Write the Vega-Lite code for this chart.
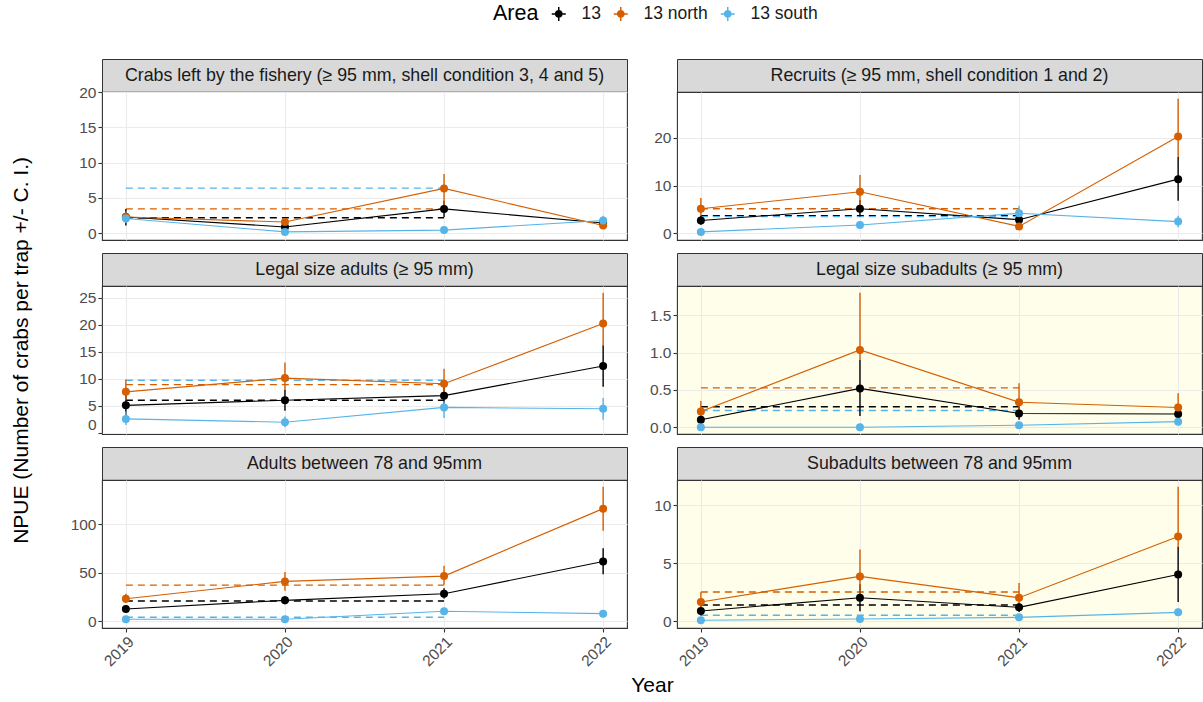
{
  "$schema": "https://vega.github.io/schema/vega-lite/v6.json",
  "padding": {"left": 10, "right": 0, "top": 5, "bottom": 0},
  "title": {"text": "NPUE (Number of crabs per trap +/- C. I.)", "orient": "left", "anchor": "middle", "frame": "bounds", "fontSize": 21, "fontWeight": "normal", "color": "#000000", "offset": 38},
  "config": {
    "font": "Liberation Sans",
    "view": {"stroke": "#333333", "strokeWidth": 1.1},
    "axis": {"grid": true, "gridColor": "#EBEBEB", "gridWidth": 1.1, "domain": false, "tickColor": "#333333", "tickSize": 4, "tickWidth": 1.1, "labelColor": "#4D4D4D", "labelFontSize": 15.5, "labelFont": "Liberation Sans", "labelPadding": 2, "titleFont": "Liberation Sans", "titleFontSize": 21, "titleFontWeight": "normal", "titleColor": "#000000"}
  },
  "datasets": {
    "pts": [
      {"panel": "P1", "area": "13", "year": 2019, "npue": 2.3, "lo": 1.1, "hi": 3.45},
      {"panel": "P1", "area": "13", "year": 2020, "npue": 0.9, "lo": 0.4, "hi": 1.4},
      {"panel": "P1", "area": "13", "year": 2021, "npue": 3.45, "lo": 2.3, "hi": 4.6},
      {"panel": "P1", "area": "13", "year": 2022, "npue": 1.45, "lo": 1.1, "hi": 1.8},
      {"panel": "P1", "area": "13 north", "year": 2019, "npue": 2.3, "lo": 1.5, "hi": 3.1},
      {"panel": "P1", "area": "13 north", "year": 2020, "npue": 1.6, "lo": 1.2, "hi": 2.0},
      {"panel": "P1", "area": "13 north", "year": 2021, "npue": 6.35, "lo": 3.9, "hi": 8.4},
      {"panel": "P1", "area": "13 north", "year": 2022, "npue": 1.1, "lo": 0.8, "hi": 1.4},
      {"panel": "P1", "area": "13 south", "year": 2019, "npue": 2.1, "lo": 1.5, "hi": 2.8},
      {"panel": "P1", "area": "13 south", "year": 2020, "npue": 0.2, "lo": 0.05, "hi": 0.4},
      {"panel": "P1", "area": "13 south", "year": 2021, "npue": 0.45, "lo": 0.2, "hi": 0.7},
      {"panel": "P1", "area": "13 south", "year": 2022, "npue": 1.8, "lo": 1.1, "hi": 2.5},

      {"panel": "P2", "area": "13", "year": 2019, "npue": 2.7, "lo": 1.8, "hi": 3.7},
      {"panel": "P2", "area": "13", "year": 2020, "npue": 5.15, "lo": 3.5, "hi": 7.0},
      {"panel": "P2", "area": "13", "year": 2021, "npue": 2.85, "lo": 1.8, "hi": 4.0},
      {"panel": "P2", "area": "13", "year": 2022, "npue": 11.35, "lo": 6.8, "hi": 16.0},
      {"panel": "P2", "area": "13 north", "year": 2019, "npue": 5.15, "lo": 3.7, "hi": 7.4},
      {"panel": "P2", "area": "13 north", "year": 2020, "npue": 8.7, "lo": 5.8, "hi": 12.2},
      {"panel": "P2", "area": "13 north", "year": 2021, "npue": 1.45, "lo": 0.8, "hi": 2.2},
      {"panel": "P2", "area": "13 north", "year": 2022, "npue": 20.3, "lo": 16.0, "hi": 28.2},
      {"panel": "P2", "area": "13 south", "year": 2019, "npue": 0.3, "lo": 0.1, "hi": 0.6},
      {"panel": "P2", "area": "13 south", "year": 2020, "npue": 1.75, "lo": 1.0, "hi": 2.6},
      {"panel": "P2", "area": "13 south", "year": 2021, "npue": 4.2, "lo": 2.6, "hi": 5.8},
      {"panel": "P2", "area": "13 south", "year": 2022, "npue": 2.45, "lo": 1.25, "hi": 3.7},

      {"panel": "P3", "area": "13", "year": 2019, "npue": 5.05, "lo": 3.0, "hi": 7.5},
      {"panel": "P3", "area": "13", "year": 2020, "npue": 6.0, "lo": 4.05, "hi": 8.0},
      {"panel": "P3", "area": "13", "year": 2021, "npue": 6.85, "lo": 5.0, "hi": 9.0},
      {"panel": "P3", "area": "13", "year": 2022, "npue": 12.35, "lo": 8.5, "hi": 16.2},
      {"panel": "P3", "area": "13 north", "year": 2019, "npue": 7.55, "lo": 6.0, "hi": 9.85},
      {"panel": "P3", "area": "13 north", "year": 2020, "npue": 10.1, "lo": 8.0, "hi": 13.0},
      {"panel": "P3", "area": "13 north", "year": 2021, "npue": 9.05, "lo": 7.0, "hi": 11.85},
      {"panel": "P3", "area": "13 north", "year": 2022, "npue": 20.2, "lo": 16.1, "hi": 25.9},
      {"panel": "P3", "area": "13 south", "year": 2019, "npue": 2.55, "lo": 1.4, "hi": 3.9},
      {"panel": "P3", "area": "13 south", "year": 2020, "npue": 1.93, "lo": 1.0, "hi": 3.0},
      {"panel": "P3", "area": "13 south", "year": 2021, "npue": 4.67, "lo": 2.7, "hi": 5.8},
      {"panel": "P3", "area": "13 south", "year": 2022, "npue": 4.43, "lo": 2.4, "hi": 6.4},

      {"panel": "P4", "area": "13", "year": 2019, "npue": 0.10, "lo": 0.02, "hi": 0.2},
      {"panel": "P4", "area": "13", "year": 2020, "npue": 0.52, "lo": 0.15, "hi": 0.9},
      {"panel": "P4", "area": "13", "year": 2021, "npue": 0.185, "lo": 0.1, "hi": 0.35},
      {"panel": "P4", "area": "13", "year": 2022, "npue": 0.177, "lo": 0.1, "hi": 0.28},
      {"panel": "P4", "area": "13 north", "year": 2019, "npue": 0.21, "lo": 0.1, "hi": 0.35},
      {"panel": "P4", "area": "13 north", "year": 2020, "npue": 1.035, "lo": 0.9, "hi": 1.8},
      {"panel": "P4", "area": "13 north", "year": 2021, "npue": 0.335, "lo": 0.2, "hi": 0.59},
      {"panel": "P4", "area": "13 north", "year": 2022, "npue": 0.265, "lo": 0.15, "hi": 0.455},
      {"panel": "P4", "area": "13 south", "year": 2019, "npue": 0.0, "lo": 0.0, "hi": 0.0},
      {"panel": "P4", "area": "13 south", "year": 2020, "npue": 0.0, "lo": 0.0, "hi": 0.0},
      {"panel": "P4", "area": "13 south", "year": 2021, "npue": 0.027, "lo": 0.0, "hi": 0.06},
      {"panel": "P4", "area": "13 south", "year": 2022, "npue": 0.075, "lo": 0.03, "hi": 0.12},

      {"panel": "P5", "area": "13", "year": 2019, "npue": 12.7, "lo": 9.5, "hi": 16.0},
      {"panel": "P5", "area": "13", "year": 2020, "npue": 21.6, "lo": 17.5, "hi": 26.0},
      {"panel": "P5", "area": "13", "year": 2021, "npue": 28.4, "lo": 23.5, "hi": 34.0},
      {"panel": "P5", "area": "13", "year": 2022, "npue": 61.6, "lo": 48.6, "hi": 75.3},
      {"panel": "P5", "area": "13 north", "year": 2019, "npue": 23.3, "lo": 18.8, "hi": 28.4},
      {"panel": "P5", "area": "13 north", "year": 2020, "npue": 41.1, "lo": 31.5, "hi": 50.7},
      {"panel": "P5", "area": "13 north", "year": 2021, "npue": 46.6, "lo": 37.7, "hi": 57.2},
      {"panel": "P5", "area": "13 north", "year": 2022, "npue": 116.1, "lo": 93.2, "hi": 138.7},
      {"panel": "P5", "area": "13 south", "year": 2019, "npue": 2.05, "lo": 1.0, "hi": 3.5},
      {"panel": "P5", "area": "13 south", "year": 2020, "npue": 2.05, "lo": 1.0, "hi": 3.5},
      {"panel": "P5", "area": "13 south", "year": 2021, "npue": 10.3, "lo": 7.5, "hi": 13.5},
      {"panel": "P5", "area": "13 south", "year": 2022, "npue": 7.9, "lo": 5.5, "hi": 10.5},

      {"panel": "P6", "area": "13", "year": 2019, "npue": 0.89, "lo": 0.5, "hi": 1.3},
      {"panel": "P6", "area": "13", "year": 2020, "npue": 2.03, "lo": 0.86, "hi": 3.2},
      {"panel": "P6", "area": "13", "year": 2021, "npue": 1.2, "lo": 0.8, "hi": 1.6},
      {"panel": "P6", "area": "13", "year": 2022, "npue": 4.04, "lo": 1.66, "hi": 6.42},
      {"panel": "P6", "area": "13 north", "year": 2019, "npue": 1.66, "lo": 1.0, "hi": 2.5},
      {"panel": "P6", "area": "13 north", "year": 2020, "npue": 3.87, "lo": 2.2, "hi": 6.19},
      {"panel": "P6", "area": "13 north", "year": 2021, "npue": 2.03, "lo": 1.2, "hi": 3.3},
      {"panel": "P6", "area": "13 north", "year": 2022, "npue": 7.3, "lo": 6.4, "hi": 11.6},
      {"panel": "P6", "area": "13 south", "year": 2019, "npue": 0.09, "lo": 0.02, "hi": 0.2},
      {"panel": "P6", "area": "13 south", "year": 2020, "npue": 0.2, "lo": 0.1, "hi": 0.35},
      {"panel": "P6", "area": "13 south", "year": 2021, "npue": 0.34, "lo": 0.2, "hi": 0.5},
      {"panel": "P6", "area": "13 south", "year": 2022, "npue": 0.77, "lo": 0.5, "hi": 1.1}
    ],
    "ref": [
      {"panel": "P1", "area": "13", "year": 2019, "year2": 2021, "npue": 2.2},
      {"panel": "P1", "area": "13 north", "year": 2019, "year2": 2021, "npue": 3.45},
      {"panel": "P1", "area": "13 south", "year": 2019, "year2": 2021, "npue": 6.4},
      {"panel": "P2", "area": "13", "year": 2019, "year2": 2021, "npue": 3.7},
      {"panel": "P2", "area": "13 north", "year": 2019, "year2": 2021, "npue": 5.15},
      {"panel": "P2", "area": "13 south", "year": 2019, "year2": 2021, "npue": 3.5},
      {"panel": "P3", "area": "13", "year": 2019, "year2": 2021, "npue": 6.0},
      {"panel": "P3", "area": "13 north", "year": 2019, "year2": 2021, "npue": 8.9},
      {"panel": "P3", "area": "13 south", "year": 2019, "year2": 2021, "npue": 9.7},
      {"panel": "P4", "area": "13", "year": 2019, "year2": 2021, "npue": 0.274},
      {"panel": "P4", "area": "13 north", "year": 2019, "year2": 2021, "npue": 0.527},
      {"panel": "P4", "area": "13 south", "year": 2019, "year2": 2021, "npue": 0.225},
      {"panel": "P5", "area": "13", "year": 2019, "year2": 2021, "npue": 20.9},
      {"panel": "P5", "area": "13 north", "year": 2019, "year2": 2021, "npue": 37.3},
      {"panel": "P5", "area": "13 south", "year": 2019, "year2": 2021, "npue": 4.1},
      {"panel": "P6", "area": "13", "year": 2019, "year2": 2021, "npue": 1.4},
      {"panel": "P6", "area": "13 north", "year": 2019, "year2": 2021, "npue": 2.52},
      {"panel": "P6", "area": "13 south", "year": 2019, "year2": 2021, "npue": 0.52}
    ]
  },
  "resolve": {"scale": {"x": "independent", "y": "independent", "color": "shared"}},
  "spacing": 9,
  "vconcat": [
    {
      "columns": 2, "bounds": "flush", "spacing": {"row": 0, "column": 50},
      "resolve": {"scale": {"x": "independent", "y": "independent", "color": "shared"}},
      "concat": [
        {"width": 525, "height": 33, "view": {"fill": "#D9D9D9", "stroke": "#333333"}, "data": {"values": [{"label": "Crabs left by the fishery (≥ 95 mm, shell condition 3, 4 and 5)"}]}, "mark": {"type": "text", "fontSize": 17.8, "color": "#1A1A1A", "baseline": "middle"}, "encoding": {"text": {"field": "label"}}},
        {"width": 525, "height": 33, "view": {"fill": "#D9D9D9", "stroke": "#333333"}, "data": {"values": [{"label": "Recruits (≥ 95 mm, shell condition 1 and 2)"}]}, "mark": {"type": "text", "fontSize": 17.8, "color": "#1A1A1A", "baseline": "middle"}, "encoding": {"text": {"field": "label"}}},
        {
          "width": 525, "height": 148,
          "encoding": {
            "x": {"field": "year", "type": "quantitative", "scale": {"domain": [2018.85, 2022.15], "nice": false, "zero": false}, "axis": {"values": [2019, 2020, 2021, 2022], "labels": false, "ticks": false, "title": null}},
            "y": {"field": "npue", "type": "quantitative", "scale": {"domain": [-0.95, 20.0], "nice": false, "zero": false}, "axis": {"values": [0, 5, 10, 15, 20], "title": null}},
            "color": {"field": "area", "type": "nominal", "scale": {"domain": ["13", "13 north", "13 south"], "range": ["#000000", "#D55E00", "#56B4E9"]},
              "legend": {"title": "Area", "orient": "none", "legendX": 391, "legendY": -54, "direction": "horizontal", "titleOrient": "left", "titleFontSize": 21.5, "titleFontWeight": "normal", "titleColor": "#000000", "titlePadding": 11, "titleBaseline": "middle", "labelFontSize": 17.5, "labelColor": "#1A1A1A", "labelOffset": 14, "columnPadding": 9, "symbolSize": 196, "symbolStrokeWidth": 1.5,
                "encode": {"symbols": {"update": {"shape": {"value": "M-1,0H1M0,-1V1M0.45,0A0.45,0.45,0,1,1,-0.45,0A0.45,0.45,0,1,1,0.45,0Z"}, "fill": {"scale": "color", "field": "value"}, "stroke": {"scale": "color", "field": "value"}, "strokeWidth": {"value": 1.5}, "opacity": {"value": 1}}}}}}
          },
          "layer": [
            {"data": {"name": "ref"}, "transform": [{"filter": "datum.panel === 'P1'"}], "mark": {"type": "rule", "strokeDash": [7, 5], "strokeWidth": 1.4}, "encoding": {"x2": {"field": "year2"}}},
            {"data": {"name": "pts"}, "transform": [{"filter": "datum.panel === 'P1'"}], "mark": {"type": "rule", "strokeWidth": 1.4}, "encoding": {"y": {"field": "lo", "type": "quantitative", "scale": {"domain": [-0.95, 20.0], "nice": false, "zero": false}, "axis": {"values": [0, 5, 10, 15, 20], "title": null}}, "y2": {"field": "hi"}}},
            {"data": {"name": "pts"}, "transform": [{"filter": "datum.panel === 'P1'"}], "mark": {"type": "line", "strokeWidth": 1.1}},
            {"data": {"name": "pts"}, "transform": [{"filter": "datum.panel === 'P1'"}], "mark": {"type": "circle", "size": 64, "opacity": 1}}
          ]
        },
        {
          "width": 525, "height": 148,
          "encoding": {
            "x": {"field": "year", "type": "quantitative", "scale": {"domain": [2018.85, 2022.15], "nice": false, "zero": false}, "axis": {"values": [2019, 2020, 2021, 2022], "labels": false, "ticks": false, "title": null}},
            "y": {"field": "npue", "type": "quantitative", "scale": {"domain": [-1.4, 29.6], "nice": false, "zero": false}, "axis": {"values": [0, 10, 20], "title": null}},
            "color": {"field": "area", "type": "nominal", "scale": {"domain": ["13", "13 north", "13 south"], "range": ["#000000", "#D55E00", "#56B4E9"]}}
          },
          "layer": [
            {"data": {"name": "ref"}, "transform": [{"filter": "datum.panel === 'P2'"}], "mark": {"type": "rule", "strokeDash": [7, 5], "strokeWidth": 1.4}, "encoding": {"x2": {"field": "year2"}}},
            {"data": {"name": "pts"}, "transform": [{"filter": "datum.panel === 'P2'"}], "mark": {"type": "rule", "strokeWidth": 1.4}, "encoding": {"y": {"field": "lo", "type": "quantitative", "scale": {"domain": [-1.4, 29.6], "nice": false, "zero": false}, "axis": {"values": [0, 10, 20], "title": null}}, "y2": {"field": "hi"}}},
            {"data": {"name": "pts"}, "transform": [{"filter": "datum.panel === 'P2'"}], "mark": {"type": "line", "strokeWidth": 1.1}},
            {"data": {"name": "pts"}, "transform": [{"filter": "datum.panel === 'P2'"}], "mark": {"type": "circle", "size": 64, "opacity": 1}}
          ]
        }
      ]
    },
    {
      "columns": 2, "bounds": "flush", "spacing": {"row": 0, "column": 50},
      "resolve": {"scale": {"x": "independent", "y": "independent", "color": "shared"}},
      "concat": [
        {"width": 525, "height": 33, "view": {"fill": "#D9D9D9", "stroke": "#333333"}, "data": {"values": [{"label": "Legal size adults (≥ 95 mm)"}]}, "mark": {"type": "text", "fontSize": 17.8, "color": "#1A1A1A", "baseline": "middle"}, "encoding": {"text": {"field": "label"}}},
        {"width": 525, "height": 33, "view": {"fill": "#D9D9D9", "stroke": "#333333"}, "data": {"values": [{"label": "Legal size subadults (≥ 95 mm)"}]}, "mark": {"type": "text", "fontSize": 17.8, "color": "#1A1A1A", "baseline": "middle"}, "encoding": {"text": {"field": "label"}}},
        {
          "width": 525, "height": 148,
          "encoding": {
            "x": {"field": "year", "type": "quantitative", "scale": {"domain": [2018.85, 2022.15], "nice": false, "zero": false}, "axis": {"values": [2019, 2020, 2021, 2022], "labels": false, "ticks": false, "title": null}},
            "y": {"field": "npue", "type": "quantitative", "scale": {"domain": [-0.25, 27.15], "nice": false, "zero": false}, "axis": {"values": [0, 5, 10, 15, 20, 25], "title": null, "labelFlush": 3}},
            "color": {"field": "area", "type": "nominal", "scale": {"domain": ["13", "13 north", "13 south"], "range": ["#000000", "#D55E00", "#56B4E9"]}}
          },
          "layer": [
            {"data": {"name": "ref"}, "transform": [{"filter": "datum.panel === 'P3'"}], "mark": {"type": "rule", "strokeDash": [7, 5], "strokeWidth": 1.4}, "encoding": {"x2": {"field": "year2"}}},
            {"data": {"name": "pts"}, "transform": [{"filter": "datum.panel === 'P3'"}], "mark": {"type": "rule", "strokeWidth": 1.4}, "encoding": {"y": {"field": "lo", "type": "quantitative", "scale": {"domain": [-0.25, 27.15], "nice": false, "zero": false}, "axis": {"values": [0, 5, 10, 15, 20, 25], "title": null, "labelFlush": 3}}, "y2": {"field": "hi"}}},
            {"data": {"name": "pts"}, "transform": [{"filter": "datum.panel === 'P3'"}], "mark": {"type": "line", "strokeWidth": 1.1}},
            {"data": {"name": "pts"}, "transform": [{"filter": "datum.panel === 'P3'"}], "mark": {"type": "circle", "size": 64, "opacity": 1}}
          ]
        },
        {
          "width": 525, "height": 148, "view": {"fill": "#FFFEEA"},
          "encoding": {
            "x": {"field": "year", "type": "quantitative", "scale": {"domain": [2018.85, 2022.15], "nice": false, "zero": false}, "axis": {"values": [2019, 2020, 2021, 2022], "labels": false, "ticks": false, "title": null}},
            "y": {"field": "npue", "type": "quantitative", "scale": {"domain": [-0.09, 1.89], "nice": false, "zero": false}, "axis": {"values": [0, 0.5, 1, 1.5], "format": ".1f", "title": null}},
            "color": {"field": "area", "type": "nominal", "scale": {"domain": ["13", "13 north", "13 south"], "range": ["#000000", "#D55E00", "#56B4E9"]}}
          },
          "layer": [
            {"data": {"name": "ref"}, "transform": [{"filter": "datum.panel === 'P4'"}], "mark": {"type": "rule", "strokeDash": [7, 5], "strokeWidth": 1.4}, "encoding": {"x2": {"field": "year2"}}},
            {"data": {"name": "pts"}, "transform": [{"filter": "datum.panel === 'P4'"}], "mark": {"type": "rule", "strokeWidth": 1.4}, "encoding": {"y": {"field": "lo", "type": "quantitative", "scale": {"domain": [-0.09, 1.89], "nice": false, "zero": false}, "axis": {"values": [0, 0.5, 1, 1.5], "format": ".1f", "title": null}}, "y2": {"field": "hi"}}},
            {"data": {"name": "pts"}, "transform": [{"filter": "datum.panel === 'P4'"}], "mark": {"type": "line", "strokeWidth": 1.1}},
            {"data": {"name": "pts"}, "transform": [{"filter": "datum.panel === 'P4'"}], "mark": {"type": "circle", "size": 64, "opacity": 1}}
          ]
        }
      ]
    },
    {
      "columns": 2, "bounds": "flush", "spacing": {"row": 0, "column": 50},
      "resolve": {"scale": {"x": "independent", "y": "independent", "color": "shared"}},
      "concat": [
        {"width": 525, "height": 33, "view": {"fill": "#D9D9D9", "stroke": "#333333"}, "data": {"values": [{"label": "Adults between 78 and 95mm"}]}, "mark": {"type": "text", "fontSize": 17.8, "color": "#1A1A1A", "baseline": "middle"}, "encoding": {"text": {"field": "label"}}},
        {"width": 525, "height": 33, "view": {"fill": "#D9D9D9", "stroke": "#333333"}, "data": {"values": [{"label": "Subadults between 78 and 95mm"}]}, "mark": {"type": "text", "fontSize": 17.8, "color": "#1A1A1A", "baseline": "middle"}, "encoding": {"text": {"field": "label"}}},
        {
          "width": 525, "height": 148,
          "encoding": {
            "x": {"field": "year", "type": "quantitative", "scale": {"domain": [2018.85, 2022.15], "nice": false, "zero": false}, "axis": {"values": [2019, 2020, 2021, 2022], "format": "d", "labelAngle": -45, "labelAlign": "right", "labelBaseline": "top", "title": "Year", "titleX": 550, "titlePadding": 5}},
            "y": {"field": "npue", "type": "quantitative", "scale": {"domain": [-6.9, 145.6], "nice": false, "zero": false}, "axis": {"values": [0, 50, 100], "title": null}},
            "color": {"field": "area", "type": "nominal", "scale": {"domain": ["13", "13 north", "13 south"], "range": ["#000000", "#D55E00", "#56B4E9"]}}
          },
          "layer": [
            {"data": {"name": "ref"}, "transform": [{"filter": "datum.panel === 'P5'"}], "mark": {"type": "rule", "strokeDash": [7, 5], "strokeWidth": 1.4}, "encoding": {"x2": {"field": "year2"}}},
            {"data": {"name": "pts"}, "transform": [{"filter": "datum.panel === 'P5'"}], "mark": {"type": "rule", "strokeWidth": 1.4}, "encoding": {"y": {"field": "lo", "type": "quantitative", "scale": {"domain": [-6.9, 145.6], "nice": false, "zero": false}, "axis": {"values": [0, 50, 100], "title": null}}, "y2": {"field": "hi"}}},
            {"data": {"name": "pts"}, "transform": [{"filter": "datum.panel === 'P5'"}], "mark": {"type": "line", "strokeWidth": 1.1}},
            {"data": {"name": "pts"}, "transform": [{"filter": "datum.panel === 'P5'"}], "mark": {"type": "circle", "size": 64, "opacity": 1}}
          ]
        },
        {
          "width": 525, "height": 148, "view": {"fill": "#FFFEEA"},
          "encoding": {
            "x": {"field": "year", "type": "quantitative", "scale": {"domain": [2018.85, 2022.15], "nice": false, "zero": false}, "axis": {"values": [2019, 2020, 2021, 2022], "format": "d", "labelAngle": -45, "labelAlign": "right", "labelBaseline": "top", "title": null}},
            "y": {"field": "npue", "type": "quantitative", "scale": {"domain": [-0.58, 12.18], "nice": false, "zero": false}, "axis": {"values": [0, 5, 10], "title": null}},
            "color": {"field": "area", "type": "nominal", "scale": {"domain": ["13", "13 north", "13 south"], "range": ["#000000", "#D55E00", "#56B4E9"]}}
          },
          "layer": [
            {"data": {"name": "ref"}, "transform": [{"filter": "datum.panel === 'P6'"}], "mark": {"type": "rule", "strokeDash": [7, 5], "strokeWidth": 1.4}, "encoding": {"x2": {"field": "year2"}}},
            {"data": {"name": "pts"}, "transform": [{"filter": "datum.panel === 'P6'"}], "mark": {"type": "rule", "strokeWidth": 1.4}, "encoding": {"y": {"field": "lo", "type": "quantitative", "scale": {"domain": [-0.58, 12.18], "nice": false, "zero": false}, "axis": {"values": [0, 5, 10], "title": null}}, "y2": {"field": "hi"}}},
            {"data": {"name": "pts"}, "transform": [{"filter": "datum.panel === 'P6'"}], "mark": {"type": "line", "strokeWidth": 1.1}},
            {"data": {"name": "pts"}, "transform": [{"filter": "datum.panel === 'P6'"}], "mark": {"type": "circle", "size": 64, "opacity": 1}}
          ]
        }
      ]
    }
  ]
}
